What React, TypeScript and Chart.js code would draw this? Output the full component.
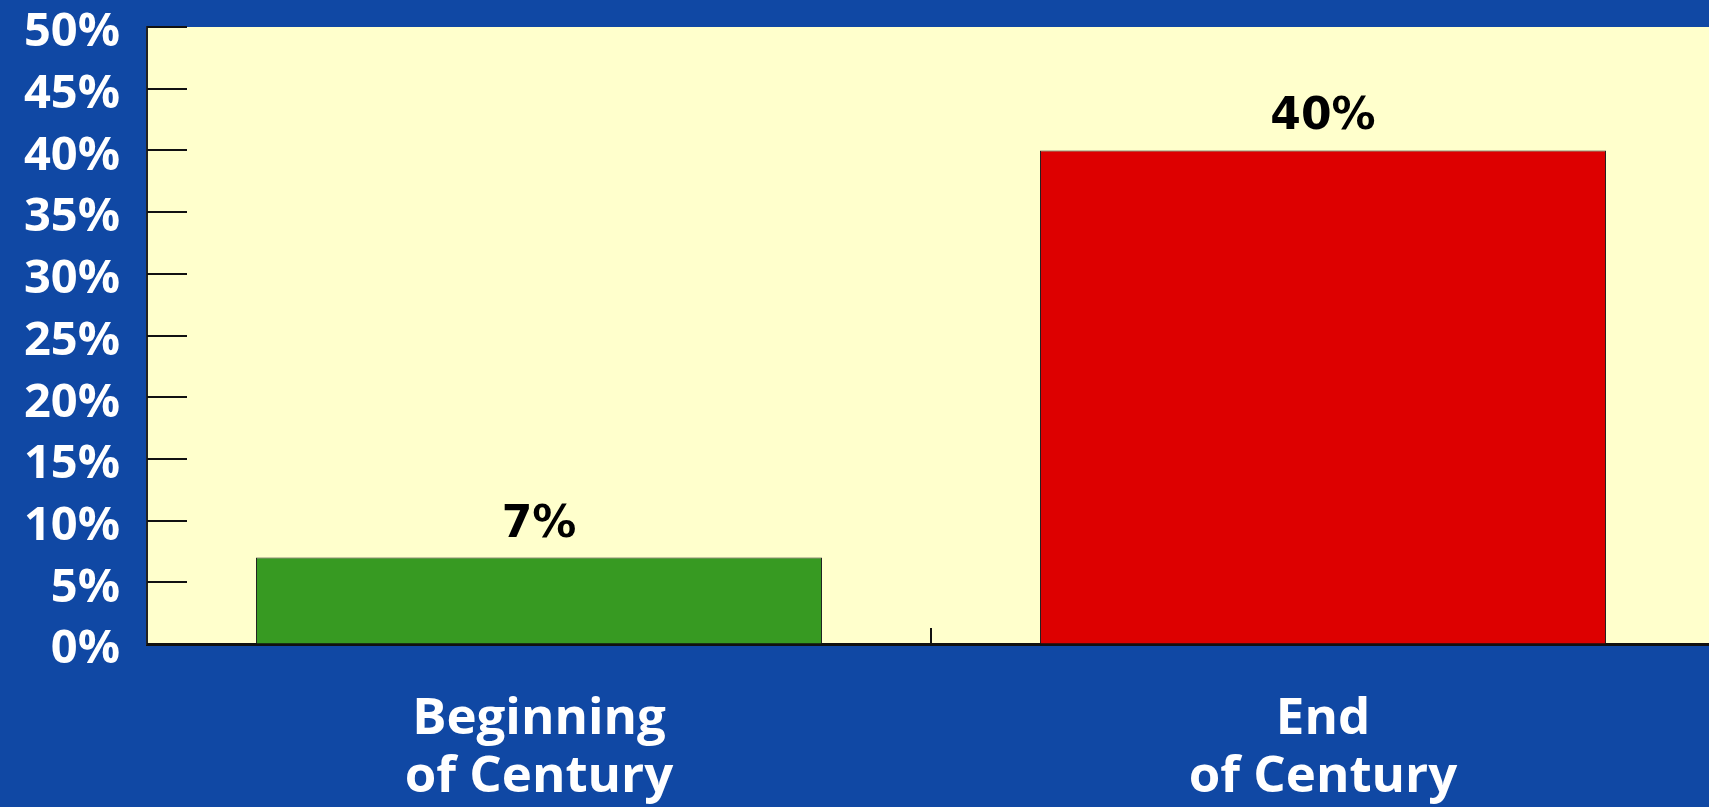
import React, { useEffect, useRef } from "react";
import { Chart, registerables } from "chart.js";

Chart.register(...registerables);

const categories: string[][] = [["Beginning", "of Century"], ["End", "of Century"]];
const values: number[] = [7, 40];
const barColors: string[] = ["#379a22", "#dd0000"];
const yTickStep = 5;
const yMax = 50;

const BLUE = "#1048a4";
const PLOT_BG = "#ffffcc";

const customPlugin = {
  id: "customDecor",
  beforeDraw(chart: any) {
    const { ctx, chartArea } = chart;
    ctx.save();
    ctx.fillStyle = PLOT_BG;
    ctx.fillRect(chartArea.left, chartArea.top, chartArea.right - chartArea.left, chartArea.bottom - chartArea.top);
    ctx.restore();
  },
  afterDatasetsDraw(chart: any) {
    const { ctx, chartArea, scales } = chart;
    const y = scales.y;
    const x = scales.x;
    ctx.save();
    ctx.strokeStyle = "#111";
    ctx.lineWidth = 2;
    y.ticks.forEach((t: any) => {
      const py = Math.round(y.getPixelForValue(t.value));
      ctx.beginPath();
      ctx.moveTo(chartArea.left, py);
      ctx.lineTo(chartArea.left + 40, py);
      ctx.stroke();
    });
    for (let i = 0; i < categories.length - 1; i++) {
      const px = Math.round(x.getPixelForValue(i + 0.5));
      ctx.beginPath();
      ctx.moveTo(px, chartArea.bottom);
      ctx.lineTo(px, chartArea.bottom - 16);
      ctx.stroke();
    }
    const meta = chart.getDatasetMeta(0);
    ctx.fillStyle = "#000";
    ctx.font = "bold 44px 'DejaVu Sans', sans-serif";
    ctx.textAlign = "center";
    ctx.textBaseline = "alphabetic";
    meta.data.forEach((bar: any, i: number) => {
      ctx.fillText(values[i] + "%", bar.x, bar.y - 21);
    });
    ctx.restore();
  },
};

export default function App() {
  const ref = useRef<HTMLCanvasElement | null>(null);
  useEffect(() => {
    if (!ref.current) return;
    const chart = new Chart(ref.current, {
      type: "bar",
      data: {
        labels: categories,
        datasets: [
          {
            data: values,
            backgroundColor: barColors,
            borderColor: "#222",
            borderWidth: 1,
            barPercentage: 0.722,
            categoryPercentage: 1,
          },
        ],
      },
      options: {
        responsive: false,
        animation: false,
        layout: { padding: { top: 27, left: 0, right: 0, bottom: 0 } },
        plugins: { legend: { display: false }, tooltip: { enabled: false } },
        scales: {
          x: {
            type: "category",
            grid: { display: false, drawTicks: false },
            border: { display: true, color: "#111", width: 3 },
            ticks: {
              color: "#ffffff",
              padding: 46,
              font: { family: "'Open Sans', sans-serif", weight: "bold", size: 51, lineHeight: 1.14 },
            },
            afterFit(scale: any) {
              scale.height = 163;
              scale.paddingLeft = 0;
              scale.paddingRight = 0;
            },
          },
          y: {
            min: 0,
            max: yMax,
            grid: { drawOnChartArea: false, drawTicks: false },
            border: { display: true, color: "#222", width: 2 },
            ticks: {
              stepSize: yTickStep,
              autoSkip: false,
              color: "#ffffff",
              padding: 27,
              labelOffset: 6,
              font: { family: "'Open Sans', sans-serif", weight: "bold", size: 47 },
              callback: (v: any) => v + "%",
            },
            afterFit(scale: any) {
              scale.width = 147;
              scale.paddingTop = 0;
              scale.paddingBottom = 0;
            },
          },
        },
      },
      plugins: [customPlugin],
    });
    return () => chart.destroy();
  }, []);

  return (
    <div
      style={{
        position: "fixed",
        left: 0,
        top: 0,
        width: 1709,
        height: 807,
        overflow: "hidden",
        background: BLUE,
      }}
    >
      <canvas ref={ref} width={1715} height={807} style={{ display: "block", width: 1715, height: 807 }} />
    </div>
  );
}
